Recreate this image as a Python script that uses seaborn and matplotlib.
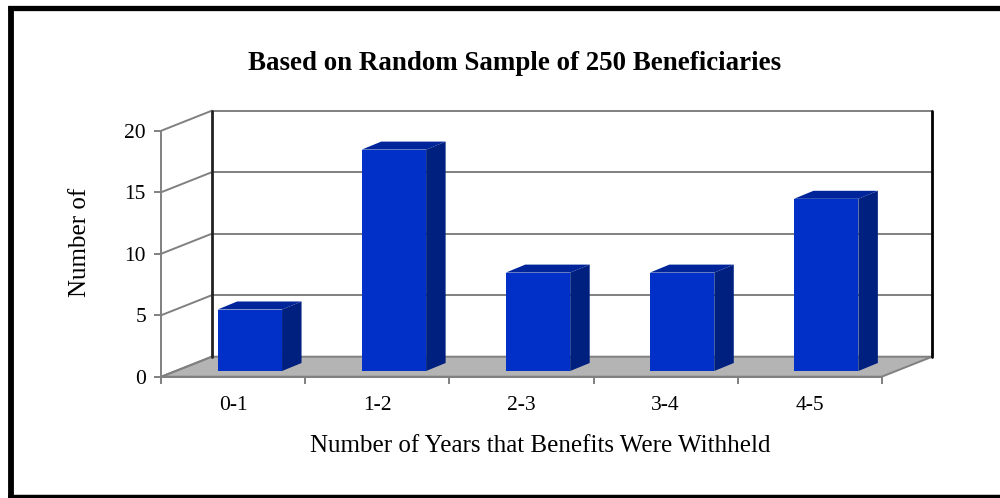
import matplotlib
matplotlib.use("Agg")
import matplotlib.pyplot as plt
from matplotlib.lines import Line2D
from matplotlib.patches import Polygon, Rectangle
import pandas as pd
import seaborn as sns

categories = ["0-1", "1-2", "2-3", "3-4", "4-5"]
counts = [5, 18, 8, 8, 14]
y_ticks = [0, 5, 10, 15, 20]

TITLE = "Based on Random Sample of 250 Beneficiaries"
X_LABEL = "Number of Years that Benefits Were Withheld"
Y_LABEL = "Number of"

W, H = 1000, 498
# front plane of the fake 3d box, in pixels
LEFT, RIGHT, TOP, BOTTOM = 161.3, 881.7, 130.7, 376.7

FRONT = "#0030C8"
TOP_FACE = "#00259A"
SIDE = "#002080"
GRID = "#808080"
FLOOR = "#B4B4B4"

sns.set_theme(style="white")
plt.rcParams["font.family"] = ["Liberation Serif", "DejaVu Serif"]

df = pd.DataFrame({"years": categories, "count": counts})

fig = plt.figure(figsize=(W / 100, H / 100), dpi=100, facecolor="white")
ax = fig.add_axes([LEFT / W, 1 - BOTTOM / H, (RIGHT - LEFT) / W, (BOTTOM - TOP) / H])
ax.patch.set_alpha(0)

sns.barplot(data=df, x="years", y="count", color=FRONT, saturation=1, width=0.447, linewidth=0, ax=ax)
ax.set_xlim(-0.5, 4.5)
ax.set_ylim(0, 20)

# depth of box and of the bars, converted to data units
px_x = 5 / (RIGHT - LEFT)
px_y = 20 / (BOTTOM - TOP)
depth_x, depth_y = 50.5 * px_x, 20 * px_y
shift_x, shift_y = 16.5 * px_x, 5.7 * px_y
bar_dx, bar_dy = 19.5 * px_x, 8 * px_y

x0, x1 = ax.get_xlim()

# floor
ax.add_patch(Polygon([(x0, 0), (x1, 0), (x1 + depth_x, depth_y), (x0 + depth_x, depth_y)],
                     closed=True, fc=FLOOR, ec=GRID, lw=1.4, clip_on=False, zorder=1))

# gridlines on back wall and left wall
for v in y_ticks:
    ax.plot([x0, x0 + depth_x], [v, v + depth_y], color=GRID, lw=1.4, clip_on=False, zorder=1.5)
    if v > 0:
        ax.plot([x0 + depth_x, x1 + depth_x], [v + depth_y, v + depth_y], color=GRID, lw=1.4,
                clip_on=False, zorder=1.5)

ax.plot([x0 + depth_x] * 2, [depth_y, 20 + depth_y], color="#222222", lw=2, clip_on=False, zorder=1.6)
ax.plot([x1 + depth_x] * 2, [depth_y, 20 + depth_y], color="black", lw=2, clip_on=False, zorder=1.6)

# bars: shift the seaborn patches onto the floor, then add top and side faces
for bar in list(ax.patches):
    if not isinstance(bar, Rectangle):
        continue
    bar.set_x(bar.get_x() + shift_x)
    bar.set_y(shift_y)
    bar.set_clip_on(False)
    bar.set_zorder(3)
    bx, bw, bh = bar.get_x(), bar.get_width(), bar.get_height()
    by = shift_y
    ax.add_patch(Polygon([(bx, by + bh), (bx + bw, by + bh), (bx + bw + bar_dx, by + bh + bar_dy),
                          (bx + bar_dx, by + bh + bar_dy)], closed=True, fc=TOP_FACE, ec="none",
                         clip_on=False, zorder=3))
    ax.add_patch(Polygon([(bx + bw, by), (bx + bw + bar_dx, by + bar_dy),
                          (bx + bw + bar_dx, by + bh + bar_dy), (bx + bw, by + bh)], closed=True,
                         fc=SIDE, ec="none", clip_on=False, zorder=3))

for side in ["top", "right"]:
    ax.spines[side].set_visible(False)
for side in ["left", "bottom"]:
    ax.spines[side].set_color(GRID)
    ax.spines[side].set_linewidth(1.4)
    ax.spines[side].set_zorder(2)

ax.set_yticks(y_ticks)
ax.set_xticks(range(len(categories)))
ax.set_xticklabels(categories)
ax.set_xticks([i - 0.5 for i in range(len(categories) + 1)], minor=True)
ax.tick_params(axis="x", which="major", length=0, pad=14, labelsize=15.5, colors="black")
ax.tick_params(axis="x", which="minor", length=5, width=1.4, color=GRID, bottom=True)
ax.tick_params(axis="y", length=5, width=1.4, color=GRID, left=True, labelsize=15.5, labelcolor="black", pad=6)

ax.set_xlabel("")
ax.set_ylabel("")
fig.text(540 / W, 1 - 446 / H, X_LABEL, ha="center", va="center", fontsize=18, color="black")
fig.text(80 / W, 1 - 242 / H, Y_LABEL, ha="center", va="center", rotation=90, fontsize=18, color="black")
fig.text(515 / W, 1 - 63 / H, TITLE, ha="center", va="center", fontsize=19.4, fontweight="bold", color="black")

# outer frame: top, left and bottom only, the right side runs off the image
for xs, ys, lw in [((8, W), (8.5, 8.5), 3.8), ((11, 11), (6, H), 4.2), ((8, W), (497, 497), 3.2)]:
    fig.add_artist(Line2D([x / W for x in xs], [1 - y / H for y in ys], transform=fig.transFigure,
                          color="black", lw=lw, solid_capstyle="butt"))

fig.savefig("out.png", dpi=100)
